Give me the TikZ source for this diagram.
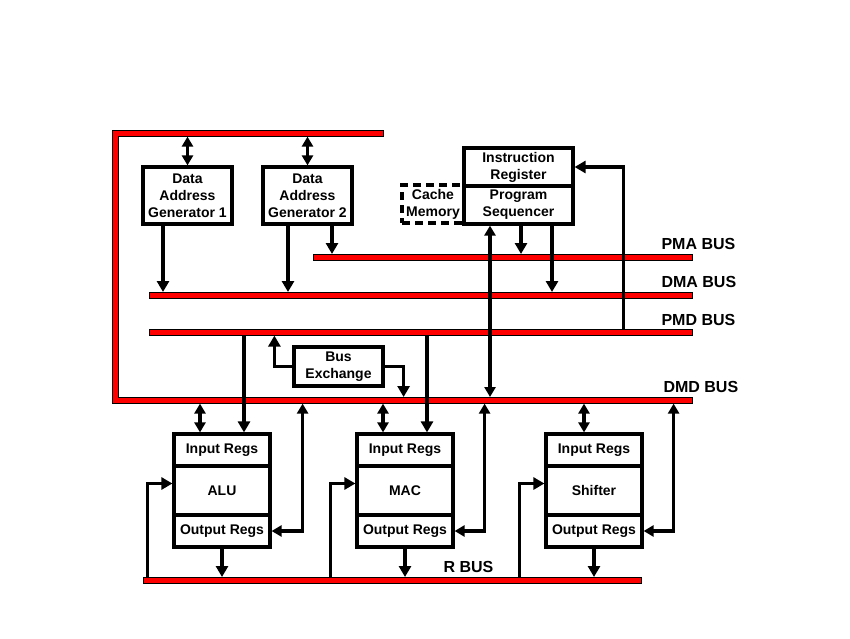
\documentclass[tikz,border=0pt]{standalone}
\usepackage{fontspec}
\setmainfont{Liberation Sans}
\usetikzlibrary{arrows.meta}

\begin{document}
\begin{tikzpicture}[x=1pt,y=-1pt,
  bus/.style={draw=black,line width=.6pt,fill=red,inner sep=0pt,minimum height=6pt,anchor=north west},
  busname/.style={anchor=west,font=\fontsize{16}{18}\selectfont\bfseries},
  blk/.style={draw,line width=3.2pt,inner sep=0pt,align=center,font=\fontsize{14}{17}\selectfont\bfseries},
  conn/.style={line width=3.4pt},
  arr/.style={conn,-{Triangle[length=11pt,width=12pt]}},
  dbl/.style={conn,{Triangle[length=10pt,width=11pt]}-{Triangle[length=10pt,width=11pt]}}]
\useasboundingbox (0,0) rectangle (850,638);
\node[bus,draw=none,fill=none,minimum width=271pt] (dmdtop) at (112,130) {};
\node[bus,draw=none,fill=none,minimum width=580pt] (dmd) at (112,397) {};
\path[draw=black,line width=.6pt,fill=red] (dmdtop.north east) -- (dmdtop.north west) -- (dmd.south west) -- (dmd.south east) -- (dmd.north east) -- ([xshift=6pt]dmd.north west) -- ([xshift=6pt]dmdtop.south west) -- (dmdtop.south east) -- cycle;
\node[bus,minimum width=379pt] (pma) at (313,254) {};
\node[bus,minimum width=543pt] (dma) at (149,292) {};
\node[bus,minimum width=543pt] (pmd) at (149,329) {};
\node[bus,minimum width=498pt] (rbus) at (143,577) {};
\node[busname] (pmaname) at (658,243.5) {PMA BUS};
\node[busname] (dmaname) at (658,282) {DMA BUS};
\node[busname] (pmdname) at (658,319.5) {PMD BUS};
\node[busname] (dmdname) at (660,387) {DMD BUS};
\node[busname] (rbusname) at (440,567) {R BUS};
\node[blk,minimum width=89pt,minimum height=57pt] (dag1) at (187.5,195.5) {Data\\Address\\Generator 1};
\node[blk,minimum width=89pt,minimum height=57pt] (dag2) at (307.5,195.5) {Data\\Address\\Generator 2};
\node[blk,dash pattern=on 8pt off 5pt,minimum width=62pt,minimum height=38pt] (cache) at (433,204) {Cache\\Memory};
\node[blk,minimum width=109pt,minimum height=38pt] (ir) at (518.5,167) {Instruction\\Register};
\node[blk,minimum width=109pt,minimum height=38pt] (seq) at (518.5,205) {Program\\Sequencer};
\node[blk,minimum width=89pt,minimum height=39pt] (bx) at (338.5,366.5) {Bus\\Exchange};
\node[blk,minimum width=96pt,minimum height=32pt] (aluin) at (222,450) {Input Regs};
\node[blk,minimum width=96pt,minimum height=49pt] (alu) at (222,490.5) {ALU};
\node[blk,minimum width=96pt,minimum height=32pt] (aluout) at (222,531) {Output Regs};
\node[blk,minimum width=96pt,minimum height=32pt] (macin) at (405,450) {Input Regs};
\node[blk,minimum width=96pt,minimum height=49pt] (mac) at (405,490.5) {MAC};
\node[blk,minimum width=96pt,minimum height=32pt] (macout) at (405,531) {Output Regs};
\node[blk,minimum width=96pt,minimum height=32pt] (shin) at (594,450) {Input Regs};
\node[blk,minimum width=96pt,minimum height=49pt] (sh) at (594,490.5) {Shifter};
\node[blk,minimum width=96pt,minimum height=32pt] (shout) at (594,531) {Output Regs};
\coordinate (dag1o) at ([xshift=-24.5pt]dag1.south);
\coordinate (dag2o) at ([xshift=-19.5pt]dag2.south);
\coordinate (dag2p) at ([xshift=24.5pt]dag2.south);
\coordinate (seqd) at ([xshift=-28.5pt]seq.south);
\coordinate (seqp) at ([xshift=2.5pt]seq.south);
\coordinate (seqa) at ([xshift=33.5pt]seq.south);
\coordinate (irbend) at ([xshift=49pt]ir.east);
\coordinate (bxl) at ([xshift=-18pt]bx.west);
\coordinate (bxr) at ([xshift=19pt]bx.east);
\coordinate (alup) at ([xshift=22pt]aluin.north);
\coordinate (alud) at ([xshift=-22pt]aluin.north);
\coordinate (macp) at ([xshift=22pt]macin.north);
\coordinate (macd) at ([xshift=-22pt]macin.north);
\coordinate (shd) at ([xshift=-10pt]shin.north);
\coordinate (aluo) at ([xshift=31pt]aluout.east);
\coordinate (maco) at ([xshift=30pt]macout.east);
\coordinate (sho) at ([xshift=30pt]shout.east);
\coordinate (alur) at ([xshift=-25pt,yshift=7pt]alu.west);
\coordinate (macr) at ([xshift=-25pt,yshift=7pt]mac.west);
\coordinate (shr) at ([xshift=-25pt,yshift=7pt]sh.west);
\draw[dbl] (dag1.north |- dmdtop.south) -- (dag1.north);
\draw[dbl] (dag2.north |- dmdtop.south) -- (dag2.north);
\draw[arr] (dag1o) -- (dag1o |- dma.north);
\draw[arr] (dag2o) -- (dag2o |- dma.north);
\draw[arr] (dag2p) -- (dag2p |- pma.north);
\draw[dbl] (seqd |- dmd.north) -- (seqd);
\draw[arr] (seqp) -- (seqp |- pma.north);
\draw[arr] (seqa) -- (seqa |- dma.north);
\draw[arr] (irbend |- pmd.north) -- (irbend) -- (ir.east);
\draw[arr] (bx.west) -- (bxl) -- (bxl |- pmd.south);
\draw[arr] (bx.east) -- (bxr) -- (bxr |- dmd.north);
\draw[arr] (alup |- pmd.south) -- (alup);
\draw[dbl] (alud |- dmd.south) -- (alud);
\draw[arr] (macp |- pmd.south) -- (macp);
\draw[dbl] (macd |- dmd.south) -- (macd);
\draw[dbl] (shd |- dmd.south) -- (shd);
\draw[dbl] (aluout.east) -- (aluo) -- (aluo |- dmd.south);
\draw[dbl] (macout.east) -- (maco) -- (maco |- dmd.south);
\draw[dbl] (shout.east) -- (sho) -- (sho |- dmd.south);
\draw[arr] (aluout.south) -- (aluout.south |- rbus.north);
\draw[arr] (macout.south) -- (macout.south |- rbus.north);
\draw[arr] (shout.south) -- (shout.south |- rbus.north);
\draw[arr] (alur |- rbus.north) -- (alur) -- ([yshift=7pt]alu.west);
\draw[arr] (macr |- rbus.north) -- (macr) -- ([yshift=7pt]mac.west);
\draw[arr] (shr |- rbus.north) -- (shr) -- ([yshift=7pt]sh.west);
\end{tikzpicture}
\end{document}
